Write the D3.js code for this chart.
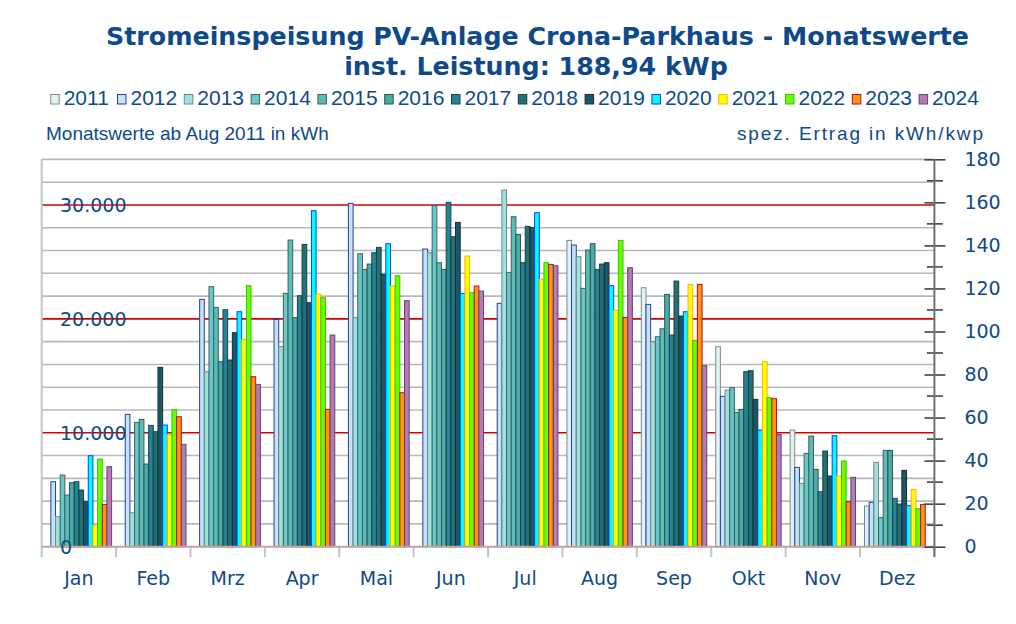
<!DOCTYPE html>
<html><head><meta charset="utf-8">
<script src="https://cdn.jsdelivr.net/npm/d3@7/dist/d3.min.js"></script>
<style>
html,body{margin:0;padding:0;background:#fff;}
svg{display:block;}
</style></head>
<body>
<svg id="chart" width="1016" height="624"></svg>
<script>
const months = ["Jan","Feb","Mrz","Apr","Mai","Jun","Jul","Aug","Sep","Okt","Nov","Dez"];
const years = ["2011","2012","2013","2014","2015","2016","2017","2018","2019","2020","2021","2022","2023","2024"];
const v2011 = [null,null,null,null,null,null,null,26890,22735,17556,10241,3570];
const v2012 = [5706,11616,21711,19955,30138,26129,21360,26480,21272,13196,6964,3892];
const v2013 = [2633,2985,15362,17556,20102,25807,31308,25456,17995,13752,5559,7403];
const v2014 = [6291,10914,22823,22238,25720,29962,24081,22677,18434,13957,8193,2546];
const v2015 = [4535,11177,21009,26919,24344,24930,28967,26041,19136,11792,9714,8456];
const v2016 = [5618,7256,16239,20102,24812,24344,27417,26597,22150,12055,6788,8456];
const v2017 = [5706,10651,20804,22033,25807,30226,24930,24344,18580,15362,4828,4243];
const v2018 = [4974,10095,16386,26539,26276,27212,28119,24812,23320,15449,8398,3745];
const v2019 = [3950,15742,18785,21418,23905,28470,28031,24930,20248,12933,6203,6701];
const v2020 = [7988,10680,20628,29494,26597,22238,29319,22911,20628,10241,9744,3599];
const v2021 = [1902,9861,18200,22179,22881,25515,23496,20745,23028,16239,6203,5033];
const v2022 = [7695,12026,22911,21857,23788,22296,24930,26890,18112,13079,7520,3336];
const v2023 = [3716,11411,14923,12055,13518,22881,24783,20131,23028,12991,3950,3716];
const v2024 = [7022,8983,14250,18580,21594,22442,24666,24491,15888,9861,6086,null];
const fills = ["#dff3f3","#c4e4f0","#a0e0e0","#66c8c8","#58bcb8","#4aaca8","#228494","#1f7278","#1a5868","#00ffff","#ffff00","#66ff00","#ff9900","#b878b8"];
const strokes = ["#7a8a8a","#2a3ca8","#6a8a8a","#3e6262","#3e6060","#305252","#1e4250","#1e3a3c","#182c32","#0040ff","#ffb000","#40c000","#c00040","#5e4866"];
const leftTicks = [0,10000,20000,30000];
const rightTicks = [0,20,40,60,80,100,120,140,160,180];
const kWp = 188.94;
const title1 = "Stromeinspeisung PV-Anlage Crona-Parkhaus - Monatswerte";
const title2 = "inst. Leistung: 188,94 kWp";

const allSeries = [v2011,v2012,v2013,v2014,v2015,v2016,v2017,v2018,v2019,v2020,v2021,v2022,v2023,v2024];
const table = [];
allSeries.forEach((arr,si)=>arr.forEach((v,mi)=>{ if(v!=null) table.push({year:years[si], month:months[mi], value:v, si}); }));

const svg = d3.select("#chart");
const blue = "#0e4a8a";
const pLeft = 41.7, pRight = 934.4, pTop = 159.3, pBottom = 546.7;

const x0 = d3.scaleBand().domain(months).range([pLeft,pRight]).padding(0);
const x1 = d3.scaleBand().domain(years).range([0,x0.bandwidth()]).paddingInner(0).paddingOuter(0.96);
const yL = d3.scaleLinear().domain([0,180*kWp]).range([pBottom,pTop]);
const yR = d3.scaleLinear().domain([0,180]).range([pBottom,pTop]);

// titles
svg.append("text").attr("x",537.5).attr("y",45).attr("text-anchor","middle")
  .style("font-family","DejaVu Sans").style("font-weight","bold").style("font-size","25.3px").attr("fill",blue).text(title1);
svg.append("text").attr("x",536).attr("y",75).attr("text-anchor","middle")
  .style("font-family","DejaVu Sans").style("font-weight","bold").style("font-size","25.3px").attr("fill",blue).text(title2);

// legend
const lg = svg.append("g");
years.forEach((y,i)=>{
  const lx = 50.7 + i*66.8;
  lg.append("rect").attr("x",lx).attr("y",94.5).attr("width",8.5).attr("height",9.5)
    .attr("fill",fills[i]).attr("stroke",strokes[i]).attr("stroke-width",1);
  lg.append("text").attr("x",lx+13).attr("y",105)
    .style("font-family","Liberation Sans").style("font-size","21px").attr("fill",blue).text(y);
});
svg.append("text").attr("x",46).attr("y",140).style("font-family","Liberation Sans").style("font-size","19px").attr("fill",blue)
  .text("Monatswerte ab Aug 2011 in kWh");
svg.append("text").attr("x",983).attr("y",140).attr("text-anchor","end").style("font-family","Liberation Sans").style("font-size","19px").attr("fill",blue)
  .attr("textLength",246).attr("lengthAdjust","spacing")
  .text("spez. Ertrag in kWh/kwp");

// gridlines
const grid = d3.range(2000, 34001, 2000);
svg.append("g").selectAll("line").data(grid).join("line")
  .attr("x1",pLeft).attr("x2",pRight).attr("y1",d=>yL(d)).attr("y2",d=>yL(d))
  .attr("stroke",d=>d%10000===0?"#d40000":"#b8b8b8").attr("stroke-width",1.6);

// left border & month separators
const seps = months.map(m=>x0(m)).concat([pRight]);
svg.append("g").selectAll("line").data(seps).join("line")
  .attr("x1",d=>d).attr("x2",d=>d).attr("y1",(d,i)=>i===0?pTop:pBottom).attr("y2",pBottom+10.5)
  .attr("stroke","#c4c4c4").attr("stroke-width",2);

// bars
svg.append("g").selectAll("rect").data(table).join("rect")
  .attr("x",d=>x0(d.month)+x1(d.year))
  .attr("y",d=>yL(d.value))
  .attr("width",x1.bandwidth())
  .attr("height",d=>yL(0)-yL(d.value))
  .attr("fill",d=>fills[d.si]).attr("stroke",d=>strokes[d.si]).attr("stroke-width",1);

// baseline
svg.append("line").attr("x1",pLeft).attr("x2",pRight).attr("y1",pBottom).attr("y2",pBottom)
  .attr("stroke","#c8a0a0").attr("stroke-width",2);

// right axis
const ra = svg.append("g").attr("transform",`translate(${pRight},0)`)
  .call(d3.axisRight(yR).tickValues(rightTicks).tickSize(11).tickPadding(19).tickFormat(d3.format("d")));
ra.select(".domain").remove();
ra.selectAll(".tick line").attr("x1",-10).attr("stroke","#444").attr("stroke-width",1.6);
ra.selectAll(".tick text").attr("fill",blue).style("font-family","DejaVu Sans").style("font-size","19px");
const minor = d3.range(10,180,20);
ra.append("g").selectAll("line").data(minor).join("line")
  .attr("x1",-7.5).attr("x2",8.5).attr("y1",d=>yR(d)).attr("y2",d=>yR(d))
  .attr("stroke","#444").attr("stroke-width",1.6);
ra.append("line").attr("x1",0).attr("x2",0).attr("y1",pTop).attr("y2",pBottom+10)
  .attr("stroke","#707070").attr("stroke-width",2);

// left tick labels (inside plot)
const deFmt = d3.formatLocale({decimal:",",thousands:".",grouping:[3],currency:["","€"]}).format(",d");
svg.append("g").selectAll("text").data(leftTicks).join("text")
  .attr("x",60).attr("y",d=>yL(d)).attr("dy","0.36em")
  .style("font-family","DejaVu Sans").style("font-size","19px").attr("fill",blue)
  .text(d=>deFmt(d));

// month labels
svg.append("g").selectAll("text").data(months).join("text")
  .attr("x",m=>x0(m)+x0.bandwidth()/2).attr("y",585).attr("text-anchor","middle")
  .style("font-family","DejaVu Sans").style("font-size","19px").attr("fill",blue).text(m=>m);
</script>
</body></html>
